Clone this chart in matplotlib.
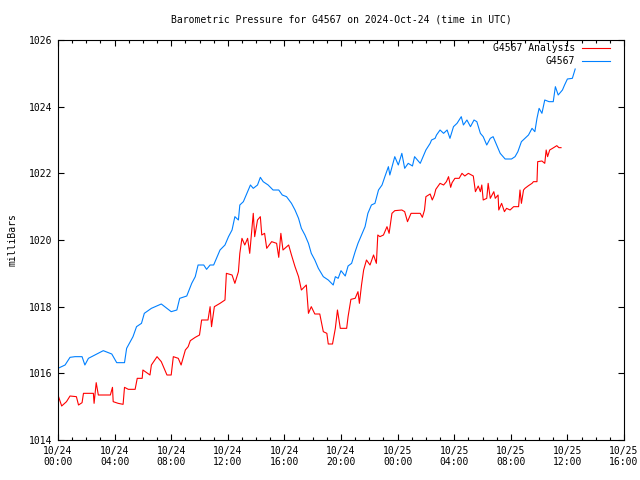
import numpy as np
import pandas as pd
import matplotlib
matplotlib.use("Agg")
import matplotlib.pyplot as plt
import matplotlib.dates as mdates

# hours after 2024-10-24 00:00 UTC, pressure in mb
blue_hours = [0.0, 0.5, 0.85, 1.2, 1.7, 1.9, 2.15, 2.6, 3.2, 3.8, 4.15, 4.7, 4.85, 5.3, 5.55,
              5.9, 6.1, 6.6, 7.3, 8.0, 8.4, 8.6, 9.1, 9.45, 9.7, 9.9, 10.3, 10.5, 10.75, 11.0,
              11.2, 11.45, 11.8, 12.05, 12.3, 12.5, 12.75, 12.85, 13.1, 13.35, 13.6, 13.8, 14.1,
              14.3, 14.5, 14.85, 15.2, 15.6, 15.85, 16.15, 16.5, 16.75, 17.0, 17.2, 17.45, 17.7,
              17.9, 18.15, 18.4, 18.75, 19.1, 19.45, 19.6, 19.8, 20.0, 20.3, 20.5, 20.75, 21.0,
              21.2, 21.45, 21.7, 21.9, 22.15, 22.4, 22.65, 22.9, 23.1, 23.35, 23.45, 23.8, 24.05,
              24.3, 24.5, 24.75, 25.05, 25.2, 25.6, 25.8, 26.0, 26.3, 26.4, 26.65, 26.75, 27.0,
              27.25, 27.5, 27.7, 27.95, 28.2, 28.5, 28.65, 28.9, 29.15, 29.4, 29.6, 29.85, 30.05,
              30.3, 30.55, 30.75, 31.0, 31.25, 31.6, 32.05, 32.3, 32.5, 32.75, 33.0, 33.25, 33.5,
              33.7, 33.85, 34.0, 34.2, 34.4, 34.7, 35.0, 35.15, 35.35, 35.65, 35.8, 36.0, 36.35,
              36.55]
blue_mb = [1016.15, 1016.25, 1016.48, 1016.5, 1016.5, 1016.25, 1016.45, 1016.55, 1016.68, 1016.58,
           1016.32, 1016.32, 1016.75, 1017.1, 1017.4, 1017.5, 1017.8, 1017.95, 1018.08, 1017.85,
           1017.9, 1018.25, 1018.32, 1018.7, 1018.9, 1019.25, 1019.25, 1019.12, 1019.25, 1019.25,
           1019.45, 1019.7, 1019.85, 1020.1, 1020.3, 1020.7, 1020.6, 1021.05, 1021.15, 1021.4,
           1021.65, 1021.55, 1021.65, 1021.88, 1021.75, 1021.65, 1021.5, 1021.5, 1021.35, 1021.3,
           1021.1, 1020.9, 1020.65, 1020.35, 1020.15, 1019.9, 1019.6, 1019.4, 1019.15, 1018.9,
           1018.8, 1018.65, 1018.9, 1018.85, 1019.08, 1018.92, 1019.22, 1019.3, 1019.65, 1019.9,
           1020.15, 1020.4, 1020.8, 1021.05, 1021.1, 1021.5, 1021.65, 1021.9, 1022.2, 1021.95,
           1022.5, 1022.25, 1022.6, 1022.15, 1022.3, 1022.22, 1022.5, 1022.3, 1022.5, 1022.7,
           1022.9, 1023.0, 1023.05, 1023.15, 1023.3, 1023.2, 1023.3, 1023.05, 1023.4, 1023.5,
           1023.7, 1023.45, 1023.6, 1023.4, 1023.6, 1023.55, 1023.2, 1023.1, 1022.85, 1023.05,
           1023.1, 1022.85, 1022.6, 1022.43, 1022.43, 1022.5, 1022.65, 1022.95, 1023.05, 1023.15,
           1023.35, 1023.25, 1023.65, 1023.95, 1023.8, 1024.2, 1024.15, 1024.15, 1024.6, 1024.35,
           1024.5, 1024.65, 1024.83, 1024.85, 1025.13]

red_hours = [0.0, 0.26, 0.6, 0.85, 1.3, 1.45, 1.7, 1.8, 2.5, 2.55, 2.7, 2.85, 3.7, 3.85, 3.9, 4.25,
             4.6, 4.7, 4.97, 5.45, 5.6, 5.95, 6.0, 6.5, 6.6, 7.0, 7.3, 7.7, 8.0, 8.15, 8.5, 8.7,
             9.0, 9.2, 9.35, 9.7, 10.0, 10.15, 10.6, 10.75, 10.85, 11.05, 11.45, 11.8, 11.9, 12.3,
             12.5, 12.75, 12.85, 13.0, 13.2, 13.4, 13.55, 13.7, 13.8, 13.9, 14.1, 14.3, 14.4, 14.6,
             14.75, 15.1, 15.45, 15.6, 15.75, 15.9, 16.3, 16.5, 16.75, 17.0, 17.2, 17.55, 17.7,
             17.9, 18.15, 18.5, 18.75, 19.0, 19.1, 19.4, 19.6, 19.75, 19.95, 20.4, 20.5, 20.7,
             21.0, 21.2, 21.3, 21.45, 21.6, 21.8, 22.05, 22.3, 22.5, 22.6, 22.75, 23.0, 23.25,
             23.4, 23.6, 23.8, 24.3, 24.5, 24.7, 24.95, 25.6, 25.75, 25.9, 26.0, 26.3, 26.45,
             26.6, 26.7, 27.0, 27.25, 27.45, 27.6, 27.75, 27.85, 28.05, 28.35, 28.55, 28.75, 29.0,
             29.35, 29.5, 29.7, 29.85, 29.95, 30.05, 30.3, 30.4, 30.55, 30.8, 30.9, 31.1, 31.15,
             31.35, 31.55, 31.7, 31.95, 32.2, 32.55, 32.65, 32.75, 32.9, 33.0, 33.25, 33.5, 33.6,
             33.85, 33.9, 34.2, 34.4, 34.5, 34.6, 34.75, 34.95, 35.25, 35.4, 35.55]
red_mb = [1015.35, 1015.02, 1015.15, 1015.32, 1015.3, 1015.05, 1015.12, 1015.4, 1015.4, 1015.1,
          1015.72, 1015.35, 1015.35, 1015.58, 1015.15, 1015.1, 1015.07, 1015.58, 1015.52, 1015.52,
          1015.85, 1015.85, 1016.1, 1015.95, 1016.25, 1016.5, 1016.35, 1015.95, 1015.95, 1016.5,
          1016.45, 1016.25, 1016.7, 1016.8, 1016.98, 1017.08, 1017.15, 1017.6, 1017.6, 1018.0,
          1017.4, 1018.0, 1018.1, 1018.2, 1019.0, 1018.95, 1018.7, 1019.05, 1019.6, 1020.05,
          1019.85, 1020.05, 1019.6, 1020.3, 1020.8, 1020.1, 1020.6, 1020.7, 1020.15, 1020.2,
          1019.75, 1019.95, 1019.9, 1019.48, 1020.2, 1019.7, 1019.85, 1019.55, 1019.2, 1018.9,
          1018.5, 1018.65, 1017.8, 1018.0, 1017.78, 1017.78, 1017.25, 1017.2, 1016.88, 1016.88,
          1017.35, 1017.9, 1017.35, 1017.35, 1017.7, 1018.22, 1018.25, 1018.45, 1018.1, 1018.65,
          1019.1, 1019.4, 1019.25, 1019.55, 1019.3, 1020.15, 1020.1, 1020.15, 1020.4, 1020.2,
          1020.8, 1020.88, 1020.9, 1020.85, 1020.55, 1020.8, 1020.8, 1020.68, 1020.9, 1021.3,
          1021.38, 1021.2, 1021.35, 1021.52, 1021.7, 1021.65, 1021.75, 1021.9, 1021.58, 1021.72,
          1021.85, 1021.85, 1022.0, 1021.92, 1022.0, 1021.92, 1021.45, 1021.62, 1021.45, 1021.65,
          1021.2, 1021.25, 1021.7, 1021.25, 1021.45, 1021.25, 1021.35, 1020.9, 1021.1, 1020.85,
          1020.95, 1020.9, 1021.0, 1021.0, 1021.5, 1021.1, 1021.5, 1021.55, 1021.63, 1021.7,
          1021.75, 1021.75, 1022.35, 1022.37, 1022.3, 1022.7, 1022.5, 1022.7, 1022.75, 1022.83,
          1022.77, 1022.77]

start = pd.Timestamp("2024-10-24 00:00")
blue_t = start + pd.to_timedelta(blue_hours, unit="h")
red_t = start + pd.to_timedelta(red_hours, unit="h")

plt.rcParams["font.family"] = "DejaVu Sans Mono"
plt.rcParams["font.size"] = 7

fig = plt.figure(figsize=(6.4, 4.8), dpi=100)
ax = fig.add_axes([58 / 640, 40 / 480, 566 / 640, 400 / 480])

ax.plot(red_t, red_mb, color="#ff0000", linewidth=0.8, label="G4567 Analysis")
ax.plot(blue_t, blue_mb, color="#0080ff", linewidth=0.8, label="G4567")

ax.set_xlim(start, start + pd.Timedelta(hours=40))
ax.set_ylim(1014, 1026)
ax.set_yticks(np.arange(1014, 1027, 2))

ax.xaxis.set_major_locator(mdates.HourLocator(byhour=range(0, 24, 4)))
ax.xaxis.set_minor_locator(mdates.HourLocator())
ax.xaxis.set_major_formatter(mdates.DateFormatter("%m/%d\n%H:%M"))

ax.tick_params(which="major", direction="in", length=4.5, width=0.8, top=True, right=True, pad=4)
ax.tick_params(which="minor", direction="in", length=2.2, width=0.8, top=True, right=False)
for sp in ax.spines.values():
    sp.set_linewidth(0.8)

ax.set_ylabel("milliBars", labelpad=8)
fig.text(341 / 640, 1 - 20 / 480, "Barometric Pressure for G4567 on 2024-Oct-24 (time in UTC)",
         ha="center", va="center")

ax.legend(loc="upper right", bbox_to_anchor=(610 / 640, 1 - 43 / 480),
          bbox_transform=fig.transFigure, frameon=False, markerfirst=False,
          handlelength=2.9, handletextpad=0.7, labelspacing=0.35, borderpad=0,
          borderaxespad=0)

fig.savefig("out.png", dpi=100)
